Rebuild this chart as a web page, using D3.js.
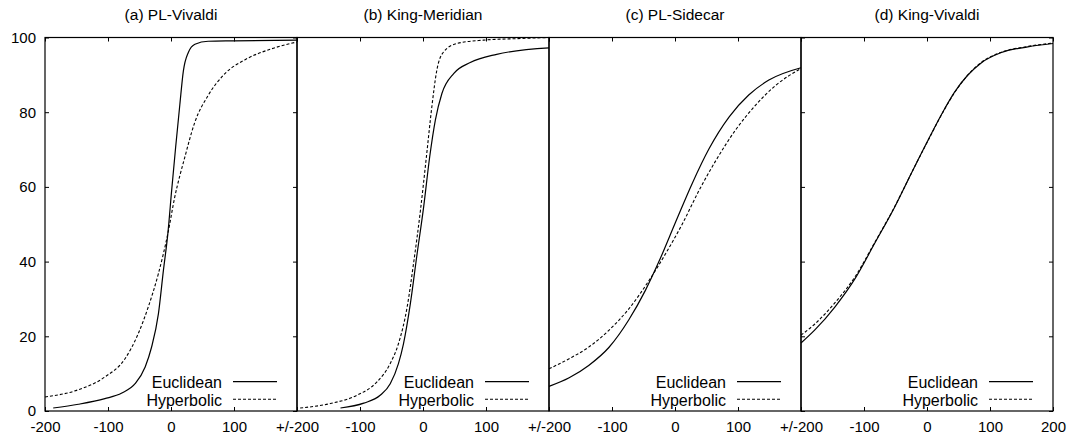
<!DOCTYPE html>
<html>
<head>
<meta charset="utf-8">
<script src="https://cdn.jsdelivr.net/npm/d3@7"></script>
<style>
  html, body { margin: 0; padding: 0; background: #fff; }
  svg { display: block; }
  text { font-family: "Liberation Sans", Arial, Helvetica, sans-serif; fill: #000; }
</style>
</head>
<body>
<svg id="chart" width="1069" height="438"></svg>
<script>
// ---------- data ----------
const panelTitles = ["(a) PL-Vivaldi", "(b) King-Meridian", "(c) PL-Sidecar", "(d) King-Vivaldi"];
const seriesNames = ["Euclidean", "Hyperbolic"];
const xTickValues = [-200, -100, 0, 100, 200];
const yTickValues = [0, 20, 40, 60, 80, 100];
const xEdgeLabels = ["+/-200", "+/-200", "+/-200", "200"];
const firstLeftLabel = "-200";

const eucA = [[-187,0.8],[-147,1.8],[-105,3.3],[-78,4.8],[-57,7.3],[-41,11.8],[-31,17],[-20,26],[-12,37.7],[-5,47.5],[1,59],[7.4,70.7],[14,82],[19.6,91],[27.5,96],[38,98.2],[59,99],[100,99.1],[200,99.3]];
const hypA = [[-200,3.75],[-147,5.7],[-105,9.1],[-73,14],[-52,20.7],[-36,27.9],[-20,36.8],[-5,47.5],[6,57.3],[22,68],[38,77.4],[59,84.5],[86,90.4],[117,94],[160,97],[200,98.8]];

const eucB = [[-131,0.8],[-94,2.1],[-68,4.2],[-52,7.3],[-39,12.7],[-31,18],[-20,28.8],[-10,41.3],[1,54.6],[10.6,68],[19.6,77.9],[30,85],[49,90.4],[75,93.3],[117,95.5],[200,97.2]];
const hypB = [[-195,0.8],[-147,2],[-105,4.2],[-73,7.8],[-52,12.7],[-39,18],[-25,28],[-15,39.5],[-4,53.8],[6,69],[14,81.4],[22,91.3],[33,96.2],[54,98.4],[96,99.3],[150,99.7],[200,100]];

const eucC = [[-200,6.6],[-168,8.9],[-137,12.2],[-105,17.0],[-73,24.5],[-47,32.3],[-25,40.2],[1,50.6],[27.5,61.0],[54,70.2],[86,78.75],[117,84.6],[149,88.6],[200,91.9]];
const hypC = [[-200,11.3],[-168,14],[-137,17.1],[-105,21.6],[-73,27.4],[-41,35],[-15,42.1],[12,50.2],[38,59],[65,67.1],[96,75.2],[128,81.9],[160,87.2],[200,91.7]];

const eucD = [[-200,18.2],[-178,21.7],[-146,27.9],[-114,35.5],[-83,44.9],[-51,54.7],[-25,63.6],[1,72.3],[27.6,80.8],[43.5,85.3],[64.5,89.9],[86,93.2],[117,95.9],[160,97.5],[200,98.4]];
const hypD = [[-200,20.3],[-178,23.3],[-146,29.0],[-114,36.0],[-83,45.1],[-51,54.8],[-25,63.6],[1,72.2],[27.6,80.7],[43.5,85.2],[64.5,89.9],[86,93.3],[117,96.0],[160,97.6],[200,98.5]];

const euclideanSeries = [eucA, eucB, eucC, eucD];
const hyperbolicSeries = [hypA, hypB, hypC, hypD];
const yTickPanels = [true, false, false, true];

// ---------- layout ----------
const svg = d3.select("#chart");
const plotLeft = 45, panelW = 252, plotTop = 37.5, plotBottom = 411;
const yScale = d3.scaleLinear().domain([0, 100]).range([plotBottom, plotTop]);
const fs = 15;

panelTitles.forEach((title, i) => {
  const x0 = plotLeft + i * panelW;
  const x = d3.scaleLinear().domain([-200, 200]).range([x0, x0 + panelW]);
  const g = svg.append("g");

  // title
  g.append("text").attr("x", x0 + panelW / 2).attr("y", 20)
    .attr("text-anchor", "middle").style("font-size", "15.5px").text(title);

  // bottom axis
  const labelFor = v => {
    if (v === -200) return i === 0 ? firstLeftLabel : "";
    if (v === 200) return xEdgeLabels[i];
    return String(v);
  };
  const gb = g.append("g").attr("transform", `translate(0,${plotBottom})`)
    .call(d3.axisBottom(x).tickValues(xTickValues).tickSizeInner(-4).tickSizeOuter(0).tickPadding(10.5).tickFormat(labelFor));
  gb.select(".domain").remove();
  gb.attr("font-family", null).attr("font-size", null);
  gb.selectAll("text").style("font-size", fs + "px");

  // top axis (ticks only)
  const gt = g.append("g").attr("transform", `translate(0,${plotTop})`)
    .call(d3.axisTop(x).tickValues(xTickValues).tickSizeInner(-4).tickSizeOuter(0).tickFormat(""));
  gt.select(".domain").remove();

  if (yTickPanels[i]) {
    const gl = g.append("g").attr("transform", `translate(${x0},0)`)
      .call(d3.axisLeft(yScale).tickValues(yTickValues).tickSizeInner(-4).tickSizeOuter(0).tickPadding(9)
        .tickFormat(i === 0 ? d3.format("d") : ""));
    gl.select(".domain").remove();
    gl.attr("font-family", null).attr("font-size", null);
    gl.selectAll("text").style("font-size", fs + "px");
    const gr = g.append("g").attr("transform", `translate(${x0 + panelW},0)`)
      .call(d3.axisRight(yScale).tickValues(yTickValues).tickSizeInner(-4).tickSizeOuter(0).tickFormat(""));
    gr.select(".domain").remove();
  }

  // border
  g.append("rect").attr("x", x0).attr("y", plotTop).attr("width", panelW).attr("height", plotBottom - plotTop)
    .attr("fill", "none").attr("stroke", "#000").attr("stroke-width", 1.2);

  // curves
  const line = d3.line().x(d => x(d[0])).y(d => yScale(d[1])).curve(d3.curveMonotoneX);
  g.append("path").datum(euclideanSeries[i]).attr("d", line)
    .attr("fill", "none").attr("stroke", "#000").attr("stroke-width", 1.2);
  g.append("path").datum(hyperbolicSeries[i]).attr("d", line)
    .attr("fill", "none").attr("stroke", "#000").attr("stroke-width", 1.1).attr("stroke-dasharray", "3,2");

  // legend
  const legTextX = x0 + 177, legLineX1 = x0 + 188, legLineX2 = x0 + 232;
  const legY = [381.7, 399.3];
  seriesNames.forEach((name, k) => {
    g.append("text").attr("x", legTextX).attr("y", legY[k] + 6.5)
      .attr("text-anchor", "end").style("font-size", "16px").text(name);
    const l = g.append("line").attr("x1", legLineX1).attr("x2", legLineX2)
      .attr("y1", legY[k]).attr("y2", legY[k]).attr("stroke", "#000");
    if (k === 0) l.attr("stroke-width", 1.2);
    else l.attr("stroke-width", 1.1).attr("stroke-dasharray", "3,2");
  });
});
</script>
</body>
</html>
